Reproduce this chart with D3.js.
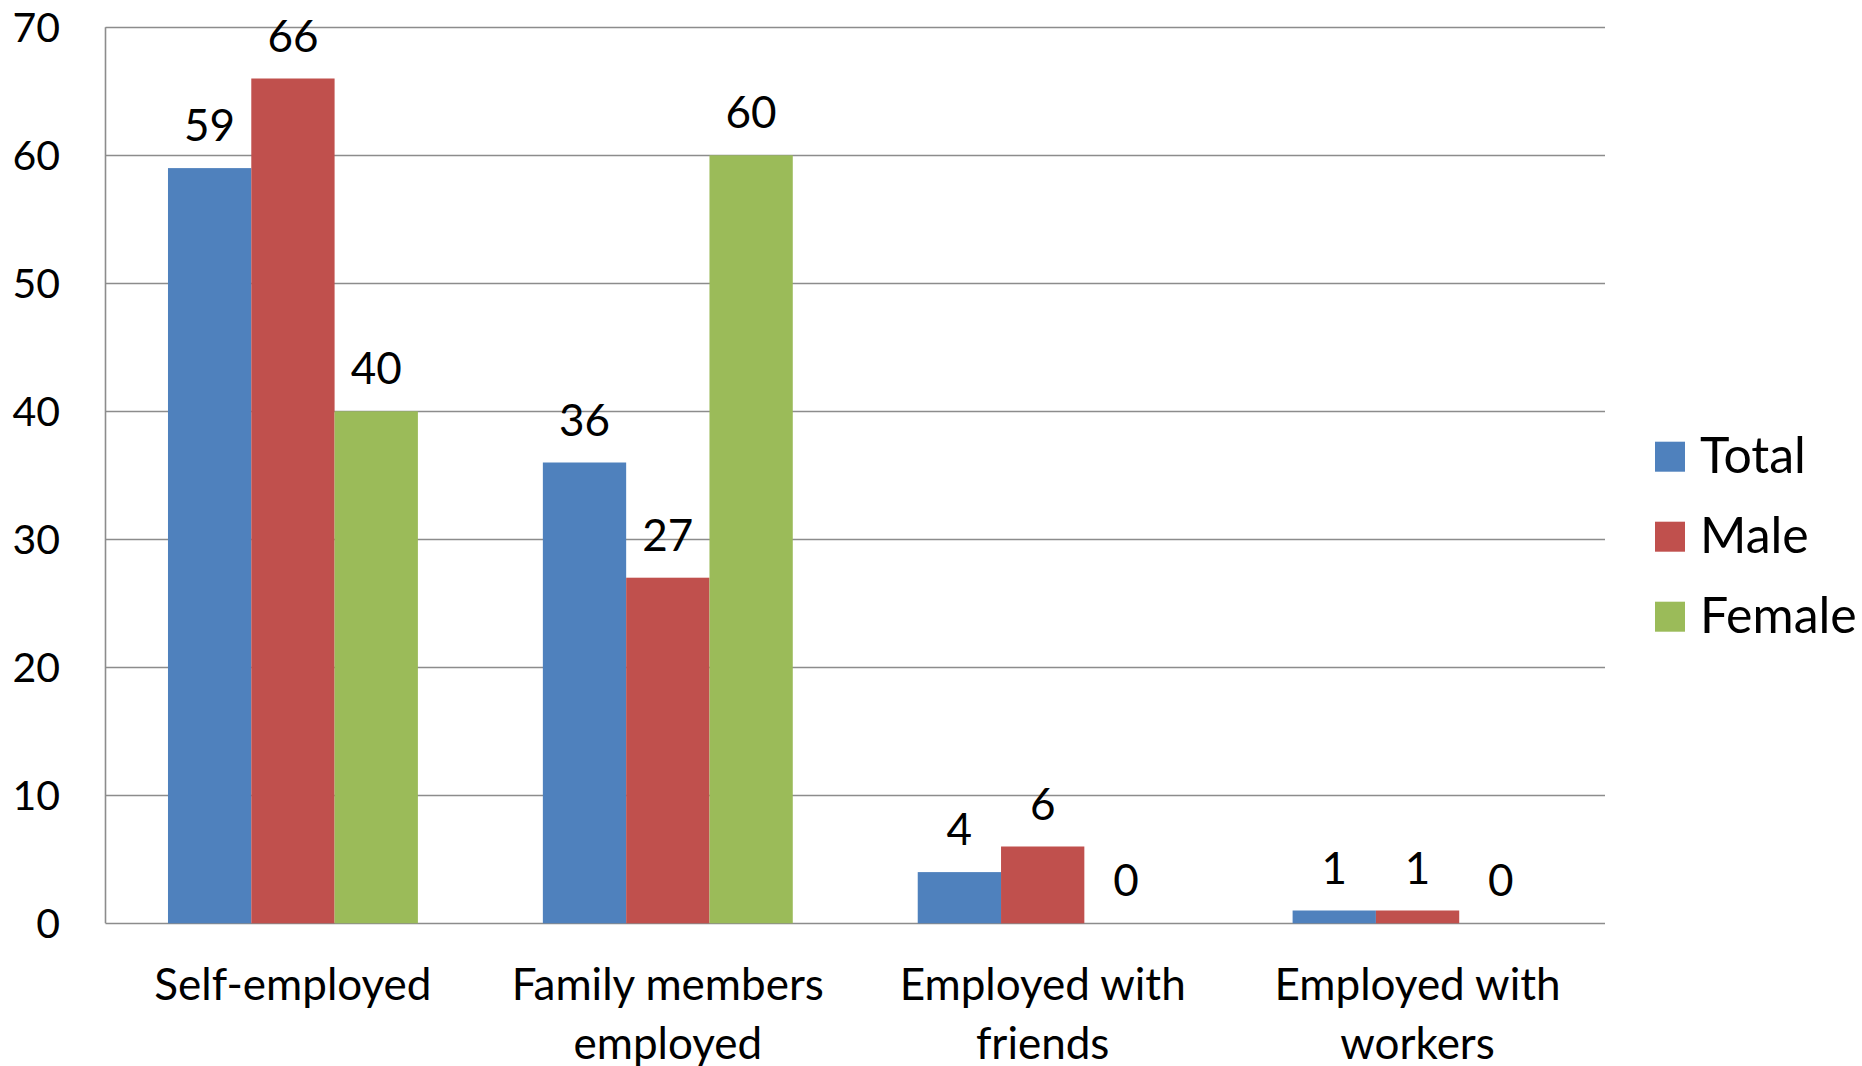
<!DOCTYPE html>
<html><head><meta charset="utf-8">
<script src="https://cdn.jsdelivr.net/npm/d3@7"></script>
<style>html,body{margin:0;padding:0;background:#fff;}svg{display:block;}</style>
</head><body>
<svg id="chart" width="1862" height="1066"></svg>
<script>
const categories = [["Self-employed"], ["Family members", "employed"], ["Employed with", "friends"], ["Employed with", "workers"]];
const seriesNames = ["Total", "Male", "Female"];
const totalValues = [59, 36, 4, 1];
const maleValues = [66, 27, 6, 1];
const femaleValues = [40, 60, 0, 0];
const yTicks = [0, 10, 20, 30, 40, 50, 60, 70];
const colors = ["#4F81BD", "#C0504D", "#9BBB59"];

(function () {
const seriesValues = [totalValues, maleValues, femaleValues];
const FONT = "Lato, 'Open Sans', sans-serif";
const svg = d3.select("#chart");
const pLeft = 105.5, pRight = 1605, pTop = 27.3, pBottom = 923.3;

const catKeys = categories.map(c => c.join(" "));
const x0 = d3.scaleBand().domain(catKeys).range([pLeft, pRight]).paddingInner(1/3).paddingOuter(1/6);
const x1 = d3.scaleBand().domain(seriesNames).range([0, x0.bandwidth()]);
const y = d3.scaleLinear().domain([0, 70]).range([pBottom, pTop]);

svg.append("g").selectAll("line").data(yTicks).join("line")
  .attr("x1", pLeft).attr("x2", pRight)
  .attr("y1", d => Math.round(y(d)) + 0.5).attr("y2", d => Math.round(y(d)) + 0.5)
  .attr("stroke", "#8c8c8c").attr("stroke-width", 1.6);
svg.append("line").attr("x1", pLeft).attr("x2", pLeft).attr("y1", y(70)).attr("y2", y(0))
  .attr("stroke", "#8c8c8c").attr("stroke-width", 1.6);

svg.append("g").selectAll("text").data(yTicks).join("text")
  .attr("x", 60).attr("y", d => y(d)).attr("dy", "0.35em")
  .attr("text-anchor", "end").attr("font-family", FONT).attr("font-size", 41)
  .attr("fill", "#000").text(d => d);

const groups = svg.append("g").selectAll("g").data(catKeys).join("g")
  .attr("transform", d => `translate(${x0(d)},0)`);
groups.selectAll("rect").data((d, i) => seriesNames.map((s, j) => ({s, v: seriesValues[j][i], j})))
  .join("rect")
  .attr("x", d => x1(d.s)).attr("width", x1.bandwidth())
  .attr("y", d => y(d.v)).attr("height", d => y(0) - y(d.v))
  .attr("fill", d => colors[d.j]);
groups.selectAll("text").data((d, i) => seriesNames.map((s, j) => ({s, v: seriesValues[j][i], j})))
  .join("text")
  .attr("x", d => x1(d.s) + x1.bandwidth() / 2).attr("y", d => y(d.v) - 27)
  .attr("text-anchor", "middle").attr("font-family", FONT).attr("font-size", 44)
  .attr("fill", "#000").text(d => d.v);

svg.append("g").selectAll("text").data(categories).join("text")
  .attr("x", (d, i) => x0(catKeys[i]) + x0.bandwidth() / 2).attr("y", 1000)
  .attr("text-anchor", "middle").attr("font-family", FONT).attr("font-size", 44)
  .attr("fill", "#000")
  .selectAll("tspan").data(d => d).join("tspan")
  .attr("x", function() { return this.parentNode.getAttribute("x"); })
  .attr("dy", (d, i) => i === 0 ? 0 : 59).text(d => d);

const leg = svg.append("g").selectAll("g").data(seriesNames).join("g")
  .attr("transform", (d, i) => `translate(1655,${441.7 + i * 80})`);
leg.append("rect").attr("width", 30).attr("height", 30).attr("fill", (d, i) => colors[i]);
leg.append("text").attr("x", 45).attr("y", 31).attr("font-family", FONT).attr("font-size", 50)
  .attr("fill", "#000").text(d => d);
})();
</script>
</body></html>
